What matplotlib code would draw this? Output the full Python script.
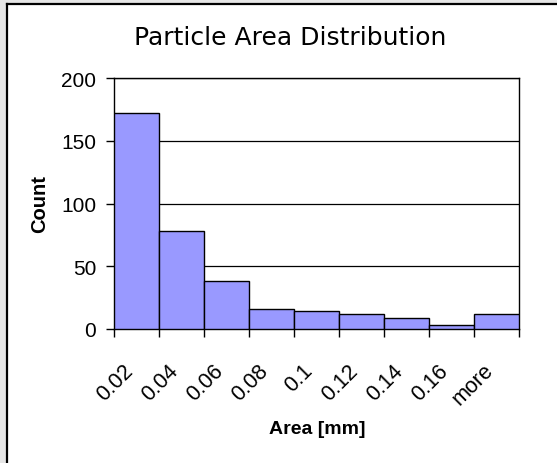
import matplotlib.pyplot as plt
import matplotlib.patches as patches
import numpy as np

bins = ["0.02", "0.04", "0.06", "0.08", "0.1", "0.12", "0.14", "0.16", "more"]
counts = [172, 78, 38, 16, 14, 12, 9, 3, 12]

W, H = 557, 464
fig = plt.figure(figsize=(W / 100, H / 100), dpi=100)

# grey sheet margin and the chart border
fig.patches.append(patches.Rectangle((0, 0), 6 / W, 1, transform=fig.transFigure,
                                     facecolor="#e6e6e6", edgecolor="none", zorder=0))
fig.patches.append(patches.Rectangle((0, 1 - 4 / H), 1, 4 / H, transform=fig.transFigure,
                                     facecolor="#e6e6e6", edgecolor="none", zorder=0))
fig.add_artist(plt.Line2D([6.5 / W, 6.5 / W], [0, 1 - 4.5 / H], color="black", lw=1.6,
                          transform=fig.transFigure))
fig.add_artist(plt.Line2D([6.5 / W, 1], [1 - 4.5 / H, 1 - 4.5 / H], color="black", lw=1.6,
                          transform=fig.transFigure))

ax = fig.add_axes([114.3 / W, 1 - 330 / H, (519.3 - 114.3) / W, (330 - 79.3) / H])

x = np.arange(len(counts))
ax.bar(x, counts, width=1.0, color="#9999ff", edgecolor="black", linewidth=1.0, zorder=3)

ax.set_xlim(-0.5, len(counts) - 0.5)
ax.set_ylim(0, 200)
ax.set_yticks([0, 50, 100, 150, 200])
ax.set_yticklabels(["0", "50", "100", "150", "200"], fontsize=15, family="Liberation Sans")
ax.grid(axis="y", color="black", linewidth=0.9, zorder=0)

# ticks on bin edges; rotated labels end a little left of bar centres
ax.set_xticks(np.arange(-0.5, len(counts)), labels=[])
ax.set_xticks(x - 0.32, labels=bins, minor=True, rotation=45, ha="right",
              rotation_mode="anchor", fontsize=15.5, family="Liberation Sans")
ax.tick_params(axis="x", which="major", direction="out", length=6, width=1)
ax.tick_params(axis="x", which="minor", length=0, pad=22)
ax.tick_params(axis="y", direction="out", length=6, width=1, pad=7)

for s in ax.spines.values():
    s.set_color("black")
    s.set_linewidth(1)

fig.text(40 / W, 1 - 204 / H, "Count", fontsize=14.5, fontweight="bold", rotation=90,
         family="Liberation Sans", ha="center", va="center")
fig.text(317 / W, 1 - 430 / H, "Area [mm]", fontsize=14, fontweight="bold",
         family="Liberation Sans", ha="center", va="center")
fig.text(290 / W, 1 - 38 / H, "Particle Area Distribution", fontsize=18,
         family="DejaVu Sans", ha="center", va="center")

fig.savefig("out.png", dpi=100)
